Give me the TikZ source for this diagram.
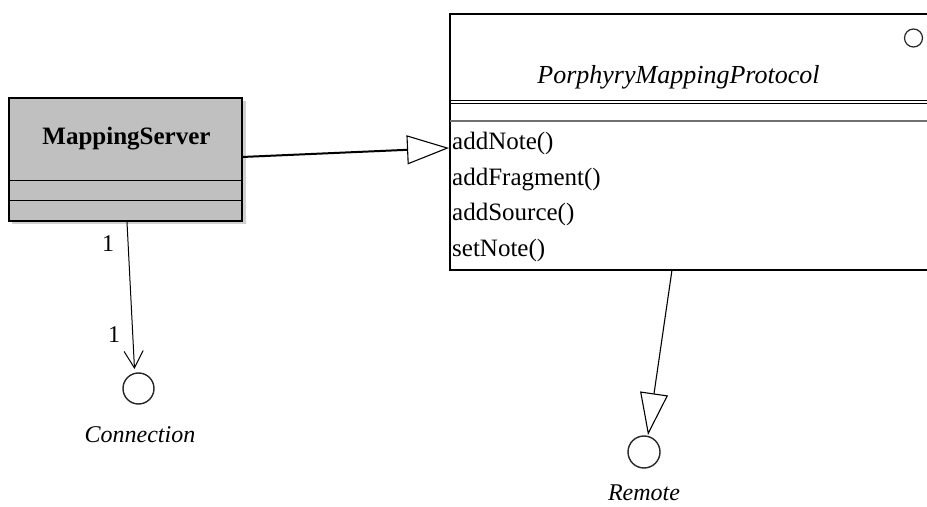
\documentclass[tikz,border=0pt]{standalone}
\usepackage{fontspec}
\setmainfont{Liberation Serif}
\usetikzlibrary{arrows.meta}
\definecolor{srvgray}{HTML}{C0C0C0}
\definecolor{shadowgray}{HTML}{D0D0D0}
\definecolor{sepgray}{HTML}{707070}
\tikzset{
  serverbox/.style={draw=black, line width=1.3bp, fill=srvgray, minimum width=233bp, minimum height=123bp, inner sep=0pt},
  protobox/.style={draw=black, line width=1.2bp, fill=white, minimum width=479bp, minimum height=256bp, inner sep=0pt},
  iface/.style={circle, draw=black!85, line width=1.4bp, inner sep=0pt},
  lbl/.style={inner sep=0pt, anchor=base, font=\fontsize{24bp}{28bp}\selectfont},
  ilbl/.style={lbl, font=\fontsize{24bp}{28bp}\selectfont\itshape},
  methodtext/.style={inner sep=0pt, anchor=base west, font=\fontsize{25bp}{30bp}\selectfont},
  thinline/.style={draw=black, line width=1bp},
  genline/.style={draw=black, line width=2bp, -{Triangle[open, length=42bp, width=29bp, line width=1.1bp]}},
  genthin/.style={draw=black, line width=1.1bp, -{Triangle[open, length=42bp, width=28bp, line width=1.1bp]}},
  navline/.style={draw=black, line width=1bp, -{Straight Barb[length=17bp, width=19bp, line width=1bp]}}
}
\begin{document}
\begin{tikzpicture}[x=1bp, y=-1bp]
\useasboundingbox (0,0) rectangle (927,507);
% MappingServer class
\fill[shadowgray] (12,101) rectangle (245.5,224);
\node[serverbox] (ms) at (125.5,159.5) {};
\draw[thinline, line width=1.2bp] (9,180.5) -- (242,180.5);
\draw[thinline, line width=1.2bp] (9,200.5) -- (242,200.5);
\node[lbl, font=\fontsize{25bp}{30bp}\selectfont\bfseries] (msname) at (126.5,145) {MappingServer};
% PorphyryMappingProtocol interface
\node[protobox] (proto) at (689.5,142) {};
\draw[thinline, line width=1.3bp] (450,100.5) -- (929,100.5);
\draw[thinline, line width=1.3bp] (450,103.2) -- (929,103.2);
\draw[draw=sepgray, line width=1.2bp] (450,121) -- (929,121);
\node[iface, minimum size=18bp, line width=1.2bp] (pstereo) at (913.5,38) {};
\node[lbl, font=\fontsize{26bp}{30bp}\selectfont\itshape] (pname) at (678.5,84) {PorphyryMappingProtocol};
\node[methodtext] (m1) at (452,149.3) {addNote()};
\node[methodtext] (m2) at (452,185.1) {addFragment()};
\node[methodtext] (m3) at (452,220.9) {addSource()};
\node[methodtext] (m4) at (452,256.7) {setNote()};
% interfaces
\node[iface, minimum size=31bp] (conn) at (138.5,388.5) {};
\node[ilbl] (connname) at (140,442) {Connection};
\node[iface, minimum size=32bp] (remote) at (644,452) {};
\node[ilbl] (remotename) at (644,500) {Remote};
% connectors
\coordinate (msright) at (242,157);
\coordinate (protoleft) at (449,148);
\coordinate (msbottom) at (127,222);
\coordinate (conntip) at (134.5,369);
\coordinate (protobottom) at (672,270);
\coordinate (remotetip) at (648,435);
\draw[genline] (msright) -- (protoleft);
\draw[navline] (msbottom) -- (conntip);
\draw[genthin] (protobottom) -- (remotetip);
% multiplicities
\node[lbl] (mult1) at (108,252) {1};
\node[lbl] (mult2) at (114,343) {1};
\end{tikzpicture}
\end{document}
